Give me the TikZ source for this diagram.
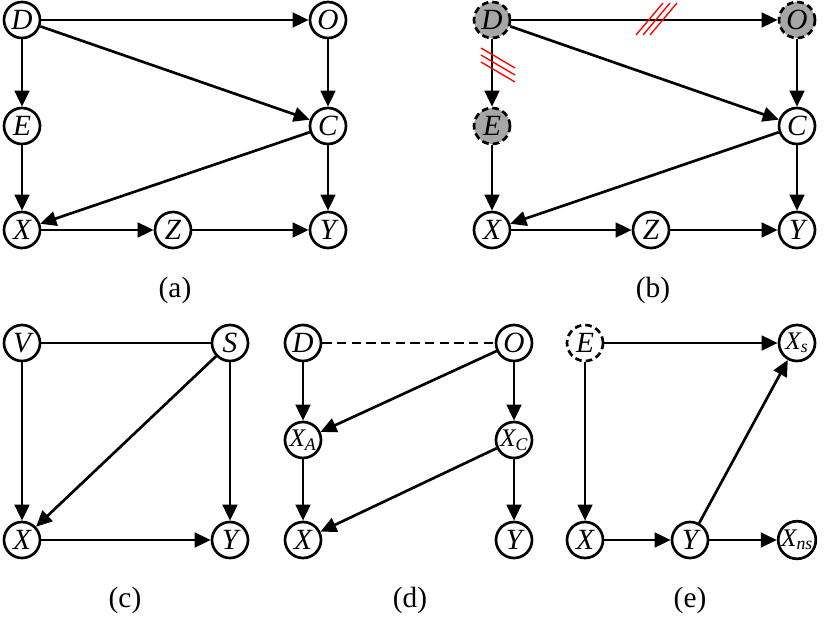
\documentclass[tikz,border=0pt]{standalone}
\usepackage{fontspec}
\setmainfont{Liberation Serif}
\usetikzlibrary{arrows.meta}
\begin{document}
\begin{tikzpicture}[x=0.75pt,y=-0.75pt,
  v/.style={circle,draw,line width=2pt,minimum size=27pt,inner sep=0pt,font=\fontsize{22}{22}\selectfont\itshape,fill=white},
  lat/.style={v,dashed,dash pattern=on 5pt off 3pt,fill=black!35},
  lat2/.style={v,dash pattern=on 5pt off 3pt},
  e/.style={line width=2pt,-{Triangle[length=12pt,width=11pt]}},
  u/.style={line width=2pt},
  captxt/.style={font=\fontsize{22}{22}\selectfont},
  hatch/.style={red,line width=1pt}]
\useasboundingbox (0,0) rectangle (830,617);
% (a)
\node[v] (aD) at (22,20) {D};
\node[v] (aO) at (328,20) {O};
\node[v] (aE) at (22,126) {E};
\node[v] (aC) at (328,126) {C};
\node[v] (aX) at (22,230) {X};
\node[v] (aZ) at (173,230) {Z};
\node[v] (aY) at (328,230) {Y};
\draw[e] (aD)--(aO); \draw[e] (aD)--(aE); \draw[e] (aD)--(aC);
\draw[e] (aO)--(aC); \draw[e] (aE)--(aX); \draw[e] (aC)--(aX);
\draw[e] (aC)--(aY); \draw[e] (aX)--(aZ); \draw[e] (aZ)--(aY);
\node[captxt] (ca) at (175,290) {(a)};
% (b)
\node[lat] (bD) at (492,20) {D};
\node[lat] (bO) at (797,20) {O};
\node[lat] (bE) at (492,126) {E};
\node[v] (bC) at (797,126) {C};
\node[v] (bX) at (492,230) {X};
\node[v] (bZ) at (651,230) {Z};
\node[v] (bY) at (797,230) {Y};
\draw[e] (bD)--(bO); \draw[e] (bD)--(bE); \draw[e] (bD)--(bC);
\draw[e] (bO)--(bC); \draw[e] (bE)--(bX); \draw[e] (bC)--(bX);
\draw[e] (bC)--(bY); \draw[e] (bX)--(bZ); \draw[e] (bZ)--(bY);
\foreach \d in {-7,0,7} {
  \draw[hatch] (643+\d,35) -- (670+\d,3);
  \draw[hatch] (481,55+\d) -- (515,75+\d);
}
\node[captxt] (cb) at (653,290) {(b)};
% (c)
\node[v] (cV) at (22,343) {V};
\node[v] (cS) at (230,343) {S};
\node[v] (cX) at (22,540) {X};
\node[v] (cY) at (230,540) {Y};
\draw[u] (cV)--(cS); \draw[e] (cV)--(cX); \draw[e] (cS)--(cX);
\draw[e] (cS)--(cY); \draw[e] (cX)--(cY);
\node[captxt] (cc) at (125,600) {(c)};
% (d)
\node[v] (dD) at (303,343) {D};
\node[v] (dO) at (514,343) {O};
\node[v,font=\fontsize{19}{19}\selectfont\itshape] (dXA) at (303,440) {X\textsubscript{\itshape A}};
\node[v,font=\fontsize{19}{19}\selectfont\itshape] (dXC) at (514,440) {X\textsubscript{\itshape C}};
\node[v] (dX) at (303,540) {X};
\node[v] (dY) at (514,540) {Y};
\draw[u,dashed,dash pattern=on 7pt off 4pt] (dD)--(dO);
\draw[e] (dD)--(dXA); \draw[e] (dO)--(dXA); \draw[e] (dO)--(dXC);
\draw[e] (dXA)--(dX); \draw[e] (dXC)--(dX); \draw[e] (dXC)--(dY);
\node[captxt] (cd) at (410,600) {(d)};
% (e)
\node[lat2] (eE) at (585,343) {E};
\node[v,font=\fontsize{19}{19}\selectfont\itshape] (eXs) at (797,343) {X\textsubscript{\itshape s}};
\node[v] (eX) at (585,540) {X};
\node[v] (eY) at (690,540) {Y};
\node[v,font=\fontsize{19}{19}\selectfont\itshape] (eXn) at (797,540) {X\textsubscript{\itshape ns}};
\draw[e] (eE)--(eXs); \draw[e] (eE)--(eX); \draw[e] (eX)--(eY);
\draw[e] (eY)--(eXs); \draw[e] (eY)--(eXn);
\node[captxt] (ce) at (690,600) {(e)};
\end{tikzpicture}
\end{document}
